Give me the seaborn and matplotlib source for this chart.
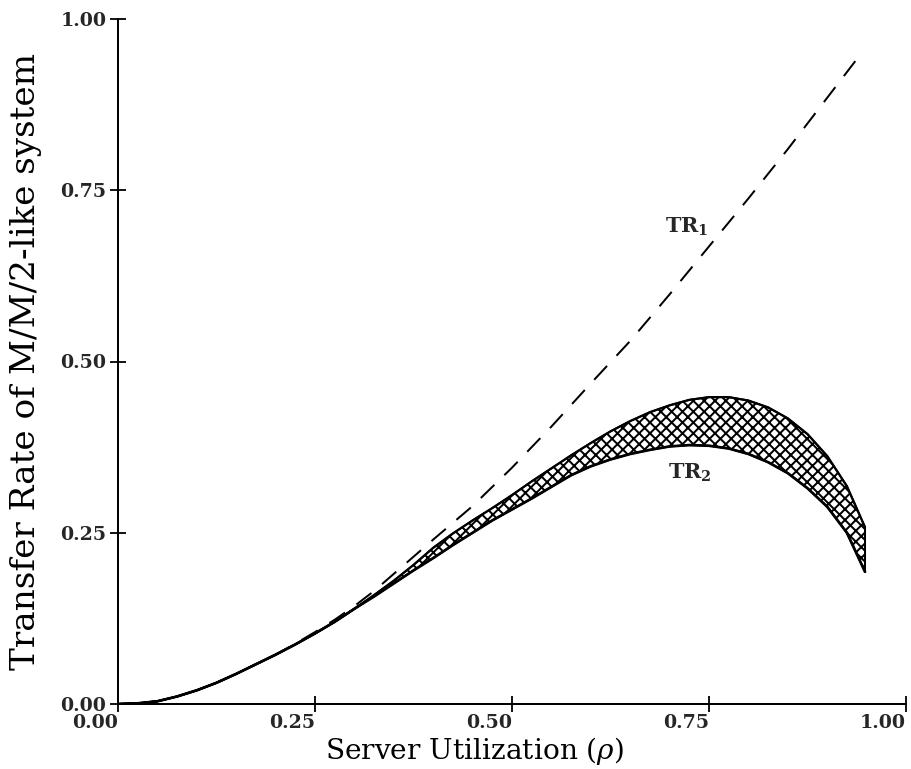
import matplotlib
matplotlib.use("Agg")
import matplotlib.pyplot as plt
import seaborn as sns
import pandas as pd

# TR1: transfer rate, upper (dashed) curve
rho_tr1 = [0.000, 0.025, 0.050, 0.075, 0.100, 0.125, 0.150, 0.175, 0.200,
           0.225, 0.250, 0.275, 0.300, 0.325, 0.350, 0.400, 0.450, 0.500,
           0.550, 0.600, 0.650, 0.700, 0.750, 0.800, 0.850, 0.900, 0.940]
tr1 = [0.000, 0.001, 0.004, 0.011, 0.020, 0.031, 0.044, 0.058, 0.072,
       0.088, 0.105, 0.123, 0.143, 0.165, 0.190, 0.240, 0.289, 0.345,
       0.405, 0.468, 0.530, 0.598, 0.668, 0.738, 0.810, 0.885, 0.945]

# TR2: lower and upper bounds of the hatched band
rho_tr2 = [0.000, 0.025, 0.050, 0.075, 0.100, 0.125, 0.150, 0.175, 0.200,
           0.225, 0.250, 0.275, 0.300, 0.325, 0.350, 0.375, 0.400, 0.425,
           0.450, 0.475, 0.500, 0.525, 0.550, 0.575, 0.600, 0.625, 0.650,
           0.675, 0.700, 0.725, 0.750, 0.775, 0.800, 0.825, 0.850, 0.875,
           0.900, 0.925, 0.948]
tr2_low = [0.000, 0.001, 0.004, 0.011, 0.020, 0.031, 0.044, 0.058, 0.072,
           0.087, 0.103, 0.120, 0.139, 0.157, 0.176, 0.195, 0.213, 0.232,
           0.250, 0.268, 0.284, 0.300, 0.317, 0.334, 0.347, 0.357, 0.365,
           0.371, 0.376, 0.378, 0.377, 0.373, 0.365, 0.353, 0.337, 0.315,
           0.288, 0.250, 0.193]
tr2_high = [0.000, 0.001, 0.004, 0.011, 0.020, 0.031, 0.044, 0.058, 0.072,
            0.087, 0.103, 0.120, 0.139, 0.159, 0.180, 0.203, 0.228, 0.249,
            0.268, 0.286, 0.305, 0.325, 0.344, 0.363, 0.381, 0.398, 0.413,
            0.426, 0.436, 0.444, 0.448, 0.448, 0.443, 0.433, 0.417, 0.394,
            0.362, 0.318, 0.258]

x_ticks = [0.00, 0.25, 0.50, 0.75, 1.00]
y_ticks = [0.00, 0.25, 0.50, 0.75, 1.00]
tick_labels = ["0.00", "0.25", "0.50", "0.75", "1.00"]

df_tr1 = pd.DataFrame({"rho": rho_tr1, "tr": tr1})
df_tr2 = pd.DataFrame({"rho": rho_tr2, "low": tr2_low, "high": tr2_high})

sns.set_style("ticks")
plt.rcParams["mathtext.fontset"] = "dejavuserif"
plt.rcParams["hatch.linewidth"] = 1.1

DPI = 130
fig = plt.figure(figsize=(911 / DPI, 769 / DPI), dpi=DPI)
ax = fig.add_axes([118 / 911, 1 - 704 / 769, 788 / 911, 685 / 769])

# Hatched band between the two TR2 bounds
ax.fill_between(df_tr2["rho"], df_tr2["low"], df_tr2["high"],
                facecolor="white", edgecolor="black", hatch="xxxx",
                linewidth=1.1, zorder=2)
sns.lineplot(data=df_tr2, x="rho", y="low", color="black", lw=1.5,
             ax=ax, zorder=3)
sns.lineplot(data=df_tr2, x="rho", y="high", color="black", lw=1.2,
             ax=ax, zorder=3)
sns.lineplot(data=df_tr1, x="rho", y="tr", color="black", lw=1.1,
             linestyle=(0, (9.5, 7)), ax=ax, zorder=4)

ax.text(0.694, 0.696, r"$\mathbf{TR_1}$", fontsize=11.5, ha="left", va="center")
ax.text(0.698, 0.337, r"$\mathbf{TR_2}$", fontsize=11.5, ha="left", va="center")

ax.set_xlim(0, 1)
ax.set_ylim(0, 1)
ax.set_xticks(x_ticks)
ax.set_yticks(y_ticks)
ax.set_xticklabels(tick_labels, ha="right", fontfamily="DejaVu Serif",
                   fontweight="bold", fontsize=10.5)
ax.set_yticklabels(tick_labels, fontfamily="DejaVu Serif",
                   fontweight="bold", fontsize=10.5)
ax.tick_params(axis="both", direction="inout", length=9, width=1.0,
               color="black", pad=2)
ax.tick_params(axis="x", pad=1)

for side in ["top", "right"]:
    ax.spines[side].set_visible(False)
for side in ["left", "bottom"]:
    ax.spines[side].set_linewidth(1.1)
    ax.spines[side].set_color("black")

ax.set_xlabel(r"Server Utilization ($\rho$)", fontfamily="DejaVu Serif",
              fontsize=15.5, color="black")
ax.set_ylabel("Transfer Rate of M/M/2-like system", fontfamily="DejaVu Serif",
              fontsize=19, color="black")
ax.xaxis.set_label_coords(0.452, -0.045)
ax.yaxis.set_label_coords(-0.096, 0.50)

fig.savefig("out.png", dpi=DPI)
